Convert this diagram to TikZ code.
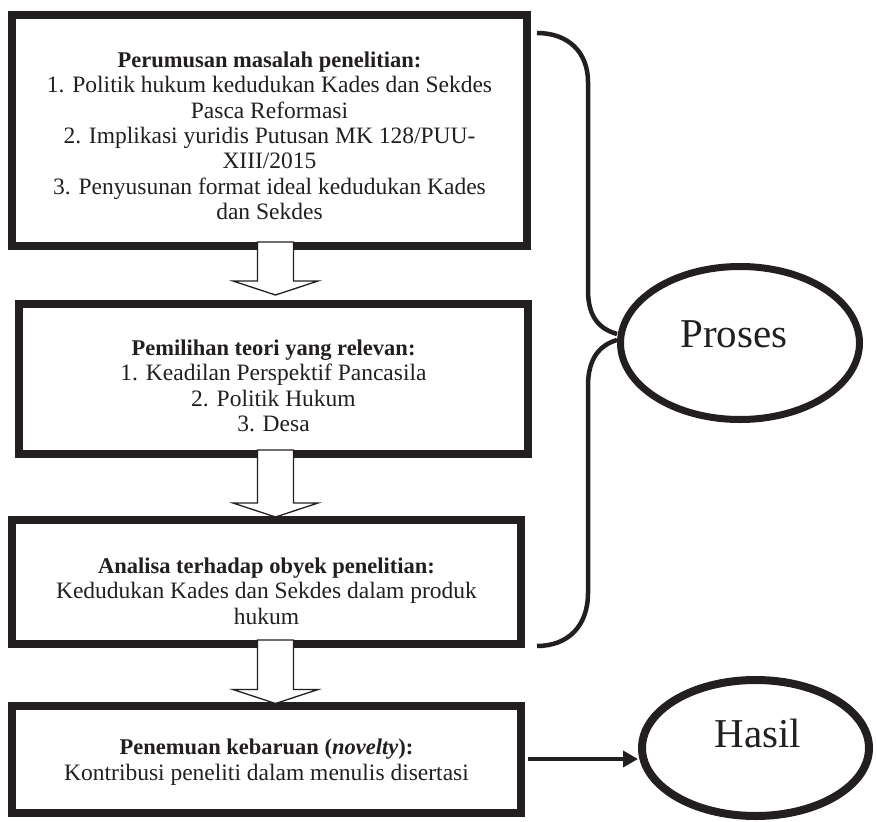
\documentclass[tikz,border=0pt]{standalone}
\usepackage{fontspec}
\setmainfont{Liberation Serif}
\usetikzlibrary{shapes.geometric,arrows.meta,calc}
\definecolor{ink}{HTML}{231F20}
\tikzset{
  stepbox/.style={draw=ink, line width=8pt, rectangle, inner sep=0pt, fill=white},
  boxtext/.style={anchor=north, inner sep=0pt, align=center, text=ink,
                  font=\fontsize{23.5}{25.3}\selectfont},
  oval/.style={draw=ink, ellipse, inner sep=0pt},
  ovaltext/.style={anchor=base, inner sep=0pt, text=ink, font=\fontsize{41}{45}\selectfont},
  barrow/.style={draw=ink, line width=1.3pt, fill=white, line join=miter},
  brace/.style={draw=ink, line width=4.5pt},
  conn/.style={draw=ink, line width=4pt, -{Triangle[length=15pt,width=16pt]}}
}
\newcommand\tbold[1]{{\fontsize{22.5}{25.3}\selectfont\bfseries #1}}
\newcommand\blkarrow[4]{% #1 name, #2 upper box, #3 lower box, #4 tip gap
  \coordinate (#1top) at ($(275.5,0 |- #2.south)+(0,-8)$);
  \coordinate (#1tip) at ($(275.5,0 |- #3.north)+(0,#4)$);
  \draw[barrow] ($(#1top)+(-18,0)$) -- ($(#1tip)+(-18,-14)$) -- ($(#1tip)+(-42.5,-14)$)
     -- (#1tip) -- ($(#1tip)+(42.5,-14)$) -- ($(#1tip)+(18,-14)$) -- ($(#1top)+(18,0)$) -- cycle;
}
\begin{document}
\begin{tikzpicture}[x=1pt,y=-1pt]
\useasboundingbox[fill=white] (0,0) rectangle (877,821);

% boxes
\node[stepbox, minimum width=515pt, minimum height=231pt] (b1) at (269.5,130.5) {};
\node[stepbox, minimum width=509pt, minimum height=150pt] (b2) at (273.5,379) {};
\node[stepbox, minimum width=509pt, minimum height=124pt] (b3) at (266.5,582) {};
\node[stepbox, minimum width=509pt, minimum height=107pt] (b4) at (266.5,759) {};

% texts
\node[boxtext] (t1) at (269.5,51.7) {\tbold{Perumusan masalah penelitian:}\\
  1. Politik hukum kedudukan Kades dan Sekdes\\
  Pasca Reformasi\\
  2. Implikasi yuridis Putusan MK 128/PUU-\\
  XIII/2015\\
  3. Penyusunan format ideal kedudukan Kades\\
  dan Sekdes};
\node[boxtext] (t2) at (273.5,339.7) {\tbold{Pemilihan teori yang relevan:}\\
  1. Keadilan Perspektif Pancasila\\
  2. Politik Hukum\\
  3. Desa};
\node[boxtext] (t3) at (266.5,557.7) {\tbold{Analisa terhadap obyek penelitian:}\\
  Kedudukan Kades dan Sekdes dalam produk\\
  hukum};
\node[boxtext, font=\fontsize{23.5}{26}\selectfont] (t4) at (266.5,738.7) {\tbold{Penemuan kebaruan (\textit{novelty}):}\\
  Kontribusi peneliti dalam menulis disertasi};

% block arrows
\blkarrow{a1}{b1}{b2}{-5}
\blkarrow{a2}{b2}{b3}{1}
\blkarrow{a3}{b3}{b4}{2}

% ellipses
\node[oval, line width=7pt, minimum width=239pt, minimum height=153pt] (proses) at (740,343) {};
\node[ovaltext] (tproses) at (734,347) {Proses};
\node[oval, line width=8pt, minimum width=227pt, minimum height=136pt] (hasil) at (755.5,748) {};
\node[ovaltext] (thasil) at (758,747) {Hasil};

% brace
\coordinate (bt) at (537,33);
\coordinate (bb) at (537,646);
\draw[brace] (bt) .. controls (568,33) and (588,52) .. (588,82) -- (588,290)
   .. controls (588,318) and (600,329) .. ([yshift=9pt]proses.west);
\draw[brace] ([yshift=3pt]proses.west) .. controls (600,345) and (588,358) .. (588,386)
   -- (588,593) .. controls (588,626) and (568,646) .. (bb);

% arrow to Hasil
\draw[conn] ([xshift=3pt]b4.east) -- (b4.east -| hasil.west);
\end{tikzpicture}
\end{document}
